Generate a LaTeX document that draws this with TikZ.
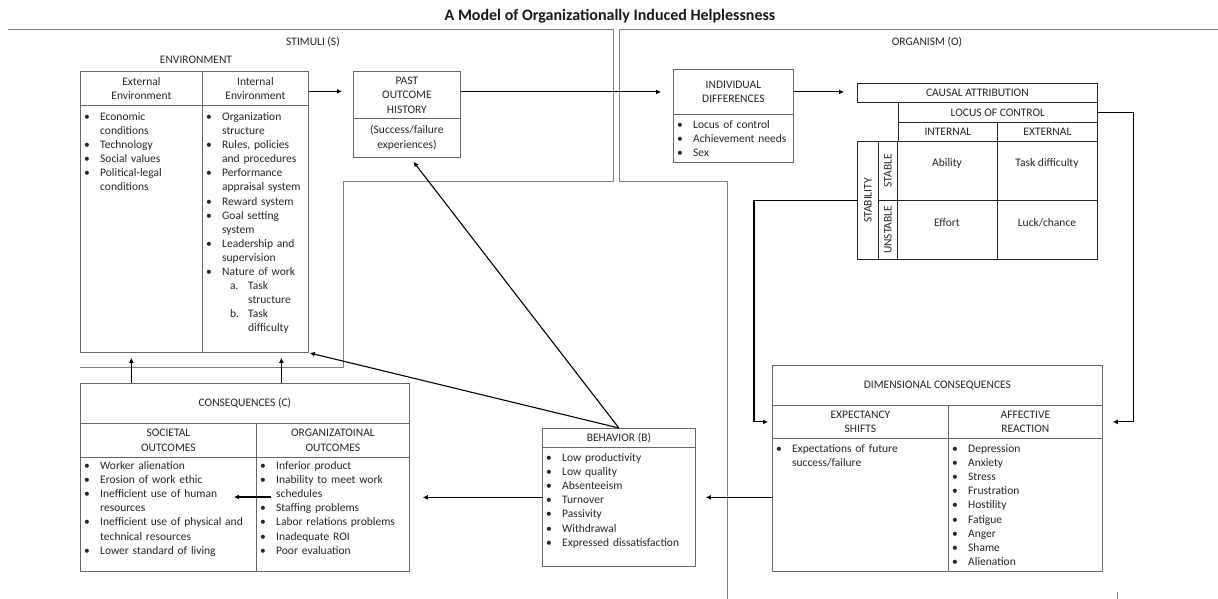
\documentclass[tikz,border=0pt]{standalone}
\usepackage{fontspec}
\setmainfont{Carlito}
\usetikzlibrary{arrows.meta}
\newcommand{\fsz}{\fontsize{11.5}{14.1}\selectfont}
% bullet item with hanging indent
\newcommand{\bi}[1]{\noindent\hangindent=20pt\hangafter=1\makebox[20pt][l]{\hspace{4pt}\textbullet}#1\par}
% lettered sub item
\newcommand{\si}[2]{\noindent\hangindent=46pt\hangafter=1\makebox[46pt][l]{\hspace{28pt}#1}#2\par}
\begin{document}
\begin{tikzpicture}[x=1pt,y=-1pt,
  cell/.style={draw=black!60, line width=0.8pt, inner sep=0pt, anchor=north west,
    font=\fontsize{11.5}{14.5}\selectfont, text=black!85, align=center},
  gcell/.style={cell, draw=black!85},
  lbl/.style={font=\fsz, text=black!85, inner sep=0pt, align=center},
  lst/.style={anchor=base west, inner sep=0pt, font=\fsz, text=black!85, align=left, text width=250pt},
  region/.style={draw=black!50, line width=0.8pt},
  arr/.style={draw=black, line width=1.1pt, -{Latex[length=5pt,width=5pt]}},
]
\fill[white] (0,0) rectangle (1218,599);
\useasboundingbox (0,0) rectangle (1218,599);

% title
\node[font=\fontsize{16}{18}\selectfont\bfseries, text=black!90] (title) at (610,16) {A Model of Organizationally Induced Helplessness};

% the two regions
\draw[region] (8,29) -- (613,29) -- (613,181) -- (343,181) -- (343,367) -- (80,367);
\draw[region] (1218,29) -- (619,29) -- (619,181) -- (727,181) -- (727,599);
\draw[region] (1117,592) -- (1117,599);
\node[lbl] (stimuli) at (313,42) {STIMULI (S)};
\node[lbl] (organism) at (927,42) {ORGANISM (O)};
\node[lbl] (environment) at (196,60) {ENVIRONMENT};

% environment
\node[cell, minimum width=122pt, minimum height=34pt] (extH) at (80,71) {External\\Environment};
\node[cell, minimum width=106pt, minimum height=34pt] (intH) at (202,71) {Internal\\Environment};
\node[cell, minimum width=122pt, minimum height=247pt] (extB) at (80,105) {};
\node[cell, minimum width=106pt, minimum height=247pt] (intB) at (202,105) {};
\node[lst] (extL) at (80,120.5) {\bi{Economic\newline conditions}\bi{Technology}\bi{Social values}\bi{Political-legal\newline conditions}};
\node[lst] (intL) at (202,120.5) {\bi{Organization\newline structure}\bi{Rules, policies\newline and procedures}\bi{Performance\newline appraisal system}\bi{Reward system}\bi{Goal setting\newline system}\bi{Leadership and\newline supervision}\bi{Nature of work}\si{a.}{Task\newline structure}\si{b.}{Task\newline difficulty}};

% past outcome history
\node[cell, minimum width=107pt, minimum height=47pt] (pastH) at (353,71) {PAST\\OUTCOME\\HISTORY};
\node[cell, minimum width=107pt, minimum height=39pt] (pastB) at (353,118) {(Success/failure\\experiences)};

% individual differences
\node[cell, minimum width=120pt, minimum height=45pt] (idH) at (673,69) {INDIVIDUAL\\DIFFERENCES};
\node[cell, minimum width=120pt, minimum height=48pt] (idB) at (673,114) {};
\node[lst] (idL) at (673,128.5) {\bi{Locus of control}\bi{Achievement needs}\bi{Sex}};

% causal attribution grid
\node[gcell, minimum width=240pt, minimum height=19pt] (caus) at (857,83) {CAUSAL ATTRIBUTION};
\node[gcell, minimum width=199pt, minimum height=20pt] (locus) at (898,102) {LOCUS OF CONTROL};
\node[gcell, minimum width=99pt, minimum height=19pt] (intl) at (898,122) {INTERNAL};
\node[gcell, minimum width=100pt, minimum height=19pt] (extl) at (997,122) {EXTERNAL};
\node[gcell, minimum width=21pt, minimum height=118pt] (stab) at (857,141) {};
\node[gcell, minimum width=19pt, minimum height=59pt] (stbl) at (878,141) {};
\node[gcell, minimum width=19pt, minimum height=59pt] (unst) at (878,200) {};
\node[gcell, minimum width=100pt, minimum height=59pt] (abil) at (897,141) {};
\node[gcell, minimum width=100pt, minimum height=59pt] (tdif) at (997,141) {};
\node[gcell, minimum width=100pt, minimum height=59pt] (eff) at (897,200) {};
\node[gcell, minimum width=100pt, minimum height=59pt] (luck) at (997,200) {};
\node[lbl, rotate=90] (stabT) at (stab.center) {STABILITY};
\node[lbl, rotate=90] (stblT) at (stbl.center) {STABLE};
\node[lbl, rotate=90] (unstT) at (unst.center) {UNSTABLE};
\node[lbl] (abilT) at (947,163) {Ability};
\node[lbl] (tdifT) at (1047,163) {Task difficulty};
\node[lbl] (effT) at (947,223) {Effort};
\node[lbl] (luckT) at (1047,223) {Luck/chance};

% dimensional consequences
\node[cell, minimum width=330pt, minimum height=40pt] (dimT) at (772,365) {DIMENSIONAL CONSEQUENCES};
\node[cell, minimum width=176pt, minimum height=33pt] (expH) at (772,405) {EXPECTANCY\\SHIFTS};
\node[cell, minimum width=154pt, minimum height=33pt] (affH) at (948,405) {AFFECTIVE\\REACTION};
\node[cell, minimum width=176pt, minimum height=133pt] (expB) at (772,438) {};
\node[cell, minimum width=154pt, minimum height=133pt] (affB) at (948,438) {};
\node[lst] (expL) at (772,452.5) {\bi{Expectations of future\newline success/failure}};
\node[lst] (affL) at (948,452.5) {\bi{Depression}\bi{Anxiety}\bi{Stress}\bi{Frustration}\bi{Hostility}\bi{Fatigue}\bi{Anger}\bi{Shame}\bi{Alienation}};

% behavior
\node[cell, minimum width=153pt, minimum height=19pt] (behH) at (542,428) {BEHAVIOR (B)};
\node[cell, minimum width=153pt, minimum height=119pt] (behB) at (542,447) {};
\node[lst] (behL) at (542,461.5) {\bi{Low productivity}\bi{Low quality}\bi{Absenteeism}\bi{Turnover}\bi{Passivity}\bi{Withdrawal}\bi{Expressed dissatisfaction}};

% consequences
\node[cell, minimum width=329pt, minimum height=40pt] (consT) at (80,383) {CONSEQUENCES (C)};
\node[cell, minimum width=176pt, minimum height=34pt] (socH) at (80,423) {SOCIETAL\\OUTCOMES};
\node[cell, minimum width=153pt, minimum height=34pt] (orgH) at (256,423) {ORGANIZATOINAL\\OUTCOMES};
\node[cell, minimum width=176pt, minimum height=114pt] (socB) at (80,457) {};
\node[cell, minimum width=153pt, minimum height=114pt] (orgB) at (256,457) {};
\node[lst] (socL) at (80,469.5) {\bi{Worker alienation}\bi{Erosion of work ethic}\bi{Inefficient use of human\newline resources}\bi{Inefficient use of physical and\newline technical resources}\bi{Lower standard of living}};
\node[lst] (orgL) at (256,469.5) {\bi{Inferior product}\bi{Inability to meet work\newline schedules}\bi{Staffing problems}\bi{Labor relations problems}\bi{Inadequate ROI}\bi{Poor evaluation}};

% connectors
\coordinate (u1) at ([xshift=-10pt]extB.south);
\coordinate (u2) at ([xshift=26pt]intB.south);
\coordinate (oa) at (271,497);
\coordinate (sa) at (234,497);
\draw[arr, shorten >=11pt] ([yshift=-3pt]intH.east) -- ([yshift=-3pt]intH.east -| pastH.west);
\draw[arr, shorten >=12pt] ([yshift=3pt]pastH.east) -- ([yshift=3pt]pastH.east -| idH.west);
\draw[arr, shorten >=13pt] (idH.east) -- (idH.east -| caus.west);
\draw[arr, shorten >=10pt] (locus.east) -- ++(36,0) |- (affH.east);
\draw[arr, shorten >=4pt] (stab.west) -- ++(-103,0) |- (expH.west);
\draw[arr, shorten >=10pt] ([yshift=9.5pt]behB.east -| expB.west) -- ([yshift=9.5pt]behB.east);
\draw[arr, shorten >=13pt] ([yshift=9.5pt]behB.west) -- ([yshift=9.5pt]behB.west -| orgB.east);
\draw[arr] (oa) -- (sa);
\draw[arr, shorten >=5pt] (behH.north) -- ([xshift=3.5pt]pastB.south);
\draw[arr, shorten >=1pt] (behH.north) -- (intB.south east);
\draw[arr, shorten >=5pt] (u1 |- consT.north) -- (u1);
\draw[arr, shorten >=5pt] (u2 |- consT.north) -- (u2);
\end{tikzpicture}
\end{document}
